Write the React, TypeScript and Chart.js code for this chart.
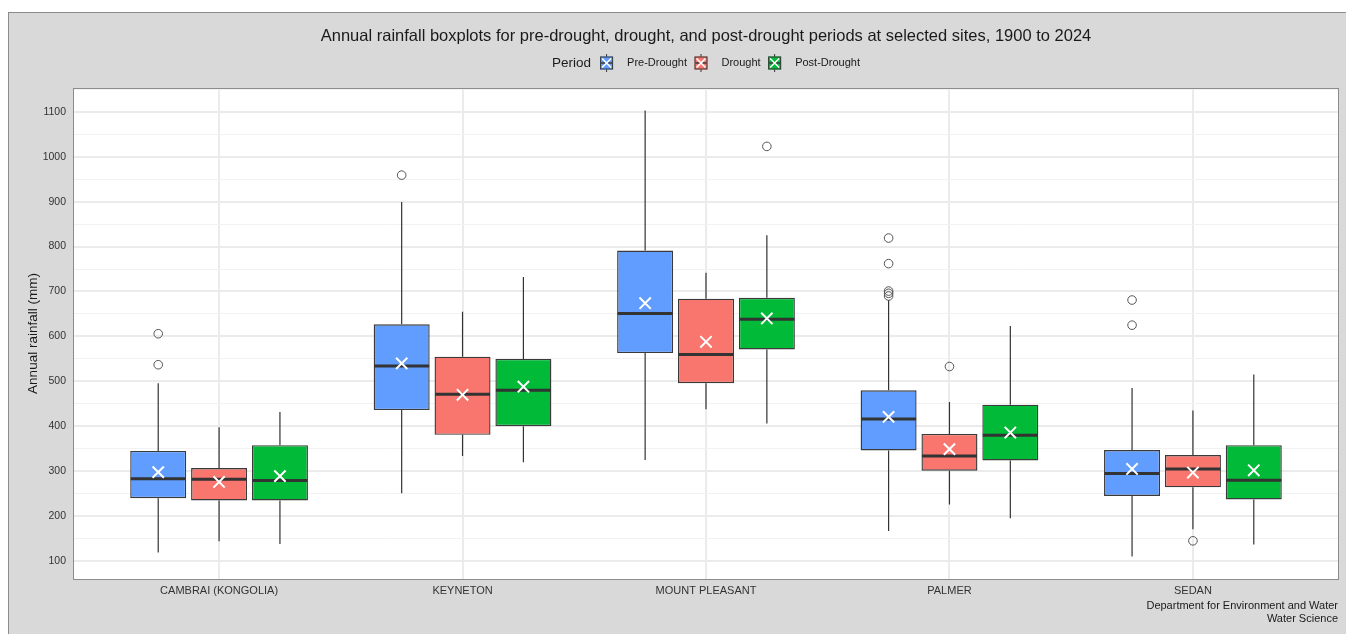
import React, { useEffect, useRef } from "react";
import { Chart, registerables } from "chart.js";

Chart.register(...registerables);

// ---------------- DATA ----------------
const sites = ["CAMBRAI (KONGOLIA)", "KEYNETON", "MOUNT PLEASANT", "PALMER", "SEDAN"];
const periods = ["Pre-Drought", "Drought", "Post-Drought"];
const periodColors = ["#619CFF", "#F8766D", "#00BA38"];
const yMajorTicks = [100, 200, 300, 400, 500, 600, 700, 800, 900, 1000, 1100];
const yMinorTicks = [150, 250, 350, 450, 550, 650, 750, 850, 950, 1050, 1150];

const preLower = [119, 251, 325, 167, 110];
const preQ1 = [240, 436, 563, 346, 245];
const preMedian = [283, 534, 651, 416, 295];
const preQ3 = [345, 627, 791, 480, 347];
const preUpper = [496, 899, 1103, 681, 485];
const preMean = [298, 540, 674, 421, 305];
const preOutliers = [[606, 537], [959], [], [819, 762, 701, 696, 690], [681, 625]];

const drLower = [144, 334, 438, 226, 171];
const drQ1 = [235, 381, 496, 301, 264];
const drMedian = [282, 471, 560, 334, 305];
const drQ3 = [307, 555, 684, 383, 336];
const drUpper = [398, 655, 742, 454, 435];
const drMean = [276, 470, 588, 349, 297];
const drOutliers = [[], [], [], [533], [145]];

const postLower = [138, 320, 406, 195, 137];
const postQ1 = [235, 400, 571, 324, 237];
const postMedian = [279, 480, 638, 380, 280];
const postQ3 = [358, 550, 686, 448, 358];
const postUpper = [432, 732, 825, 623, 515];
const postMean = [289, 488, 640, 386, 302];
const postOutliers = [[], [], [1023], [], []];

const titleText =
  "Annual rainfall boxplots for pre-drought, drought, and post-drought periods at selected sites, 1900 to 2024";
const yTitle = "Annual rainfall (mm)";
const legendTitle = "Period";
const captionLines = ["Department for Environment and Water", "Water Science"];

// ---------------- BUILD ----------------
const stats = [
  { lower: preLower, q1: preQ1, median: preMedian, q3: preQ3, upper: preUpper, mean: preMean, outliers: preOutliers },
  { lower: drLower, q1: drQ1, median: drMedian, q3: drQ3, upper: drUpper, mean: drMean, outliers: drOutliers },
  { lower: postLower, q1: postQ1, median: postMedian, q3: postQ3, upper: postUpper, mean: postMean, outliers: postOutliers },
];
const dodge = [-0.25, 0, 0.25];
const FONT = "'Liberation Sans', Arial, Helvetica, sans-serif";
const TEXT = "#1a1a1a";
const AXIS_TEXT = "#333333";
const LINE = "#333333";

const noScalePadding = (scale: any) => {
  scale._calculatePadding = () => {
    scale.paddingLeft = 0;
    scale.paddingRight = 0;
    scale.paddingTop = 0;
    scale.paddingBottom = 0;
  };
};

const boxPlugin = {
  id: "boxExtras",
  beforeDraw(chart: any) {
    const { ctx, chartArea } = chart;
    ctx.save();
    ctx.fillStyle = "#ffffff";
    ctx.fillRect(chartArea.left, chartArea.top, chartArea.right - chartArea.left, chartArea.bottom - chartArea.top);
    ctx.restore();
  },
  beforeDatasetsDraw(chart: any) {
    const { ctx } = chart;
    const y = chart.scales.y;
    ctx.save();
    ctx.strokeStyle = LINE;
    ctx.lineWidth = 1.2;
    chart.data.datasets.forEach((ds: any, di: number) => {
      if (!ds.boxStats) return;
      const meta = chart.getDatasetMeta(di);
      const s = ds.boxStats;
      meta.data.forEach((el: any, i: number) => {
        const x = el.x;
        ctx.beginPath();
        ctx.moveTo(x, y.getPixelForValue(s.q3[i]));
        ctx.lineTo(x, y.getPixelForValue(s.upper[i]));
        ctx.moveTo(x, y.getPixelForValue(s.q1[i]));
        ctx.lineTo(x, y.getPixelForValue(s.lower[i]));
        ctx.stroke();
      });
    });
    ctx.restore();
  },
  afterDatasetDraw(chart: any, args: any) {
    const ds = chart.data.datasets[args.index];
    if (!ds.boxStats) return;
    const { ctx } = chart;
    const y = chart.scales.y;
    const s = ds.boxStats;
    ctx.save();
    ctx.strokeStyle = LINE;
    ctx.lineWidth = 3;
    args.meta.data.forEach((el: any, i: number) => {
      const py = y.getPixelForValue(s.median[i]);
      ctx.beginPath();
      ctx.moveTo(el.x - el.width / 2 + 0.5, py);
      ctx.lineTo(el.x + el.width / 2 - 0.5, py);
      ctx.stroke();
    });
    ctx.restore();
  },
  afterDraw(chart: any) {
    const { ctx, chartArea } = chart;
    ctx.save();
    // panel border
    ctx.strokeStyle = "#8c8c8c";
    ctx.lineWidth = 1;
    ctx.strokeRect(chartArea.left + 0.5, chartArea.top + 0.5, chartArea.right - chartArea.left - 1, chartArea.bottom - chartArea.top);
    const cx = (chartArea.left + chartArea.right) / 2;
    // title
    ctx.fillStyle = TEXT;
    ctx.font = `16.5px ${FONT}`;
    ctx.textAlign = "center";
    ctx.textBaseline = "middle";
    ctx.fillText(titleText, cx, 36.5);
    // legend
    const ly = 63;
    ctx.font = `13.5px ${FONT}`;
    const w0 = ctx.measureText(legendTitle).width;
    ctx.font = `11px ${FONT}`;
    const ws = periods.map((p) => ctx.measureText(p).width);
    const iconW = 13;
    const total = w0 + 9 + 3 * (iconW + 14) + ws[0] + ws[1] + ws[2] + 2 * 7.5;
    let lx = cx - total / 2;
    ctx.textAlign = "left";
    ctx.font = `13.5px ${FONT}`;
    ctx.fillStyle = TEXT;
    ctx.fillText(legendTitle, lx, ly);
    lx += w0 + 9;
    periods.forEach((p, k) => {
      ctx.strokeStyle = LINE;
      ctx.lineWidth = 1;
      ctx.beginPath();
      ctx.moveTo(lx + iconW / 2, ly - 9);
      ctx.lineTo(lx + iconW / 2, ly + 9);
      ctx.stroke();
      ctx.fillStyle = periodColors[k];
      ctx.fillRect(lx, ly - 6.5, iconW, 13);
      ctx.strokeStyle = "#3a3a3a";
      ctx.strokeRect(lx + 0.5, ly - 6, iconW - 1, 12);
      ctx.lineWidth = 1.5;
      ctx.beginPath();
      ctx.moveTo(lx + 1, ly);
      ctx.lineTo(lx + iconW - 1, ly);
      ctx.stroke();
      ctx.strokeStyle = "#ffffff";
      ctx.lineWidth = 1.6;
      ctx.beginPath();
      ctx.moveTo(lx + 2, ly - 4.5);
      ctx.lineTo(lx + iconW - 2, ly + 4.5);
      ctx.moveTo(lx + iconW - 2, ly - 4.5);
      ctx.lineTo(lx + 2, ly + 4.5);
      ctx.stroke();
      lx += iconW + 14;
      ctx.fillStyle = TEXT;
      ctx.font = `11px ${FONT}`;
      ctx.fillText(p, lx, ly);
      lx += ws[k] + 7.5;
    });
    // caption
    ctx.textAlign = "right";
    ctx.font = `11px ${FONT}`;
    ctx.fillStyle = TEXT;
    ctx.fillText(captionLines[0], chartArea.right - 1, 606);
    ctx.fillText(captionLines[1], chartArea.right - 1, 619);
    ctx.restore();
  },
};

export default function App() {
  const ref = useRef<HTMLCanvasElement | null>(null);

  useEffect(() => {
    if (!ref.current) return;
    Chart.defaults.font.family = FONT;
    const datasets: any[] = [];
    stats.forEach((s, k) => {
      datasets.push({
        type: "bar",
        label: periods[k],
        order: 3,
        boxStats: s,
        data: sites.map((_, i) => ({ x: i, y: [s.q1[i], s.q3[i]] })),
        backgroundColor: periodColors[k],
        borderColor: "#3a3a3a",
        borderWidth: 1.4,
        borderSkipped: false,
        categoryPercentage: 0.75,
        barPercentage: 0.92,
      });
    });
    stats.forEach((s, k) => {
      datasets.push({
        type: "scatter",
        label: periods[k] + " outliers",
        order: 2,
        data: s.outliers.flatMap((arr, i) => arr.map((v) => ({ x: i + dodge[k], y: v }))),
        pointStyle: "circle",
        pointRadius: 4.3,
        pointBorderWidth: 1,
        pointBorderColor: "#555555",
        pointBackgroundColor: "rgba(0,0,0,0)",
      });
    });
    stats.forEach((s, k) => {
      datasets.push({
        type: "scatter",
        label: periods[k] + " mean",
        order: 1,
        data: s.mean.map((v, i) => ({ x: i + dodge[k], y: v })),
        pointStyle: "crossRot",
        pointRadius: 8,
        pointBorderWidth: 2,
        pointBorderColor: "#ffffff",
        pointBackgroundColor: "#ffffff",
      });
    });

    const chart = new Chart(ref.current, {
      type: "bar",
      data: { datasets },
      plugins: [boxPlugin],
      options: {
        responsive: false,
        animation: false,
        events: [],
        layout: { autoPadding: false, padding: { top: 88, right: 7, bottom: 0, left: 0 } },
        plugins: { legend: { display: false }, tooltip: { enabled: false }, title: { display: false } },
        scales: {
          x: {
            type: "linear",
            min: -0.6,
            max: 4.6,
            offset: false,
            beforeFit: noScalePadding,
            afterBuildTicks: (scale: any) => {
              scale.ticks = sites.map((_, i) => ({ value: i }));
            },
            afterFit: (scale: any) => {
              scale.height = 55;
            },
            ticks: {
              autoSkip: false,
              maxRotation: 0,
              padding: 5,
              color: AXIS_TEXT,
              font: { size: 11, family: FONT },
              callback: (v: any) => sites[Math.round(v)] ?? "",
            },
            grid: { color: "#ebebeb", lineWidth: 2, drawTicks: false, offset: false },
            border: { display: false },
          },
          y: {
            type: "linear",
            min: 60,
            max: 1153,
            beforeFit: noScalePadding,
            afterBuildTicks: (scale: any) => {
              scale.ticks = [...yMajorTicks, ...yMinorTicks].sort((a, b) => a - b).map((v) => ({ value: v }));
            },
            afterFit: (scale: any) => {
              scale.width = 73;
            },
            ticks: {
              autoSkip: false,
              padding: 7,
              color: AXIS_TEXT,
              font: { size: 10.5, family: FONT },
              callback: (v: any) => (yMajorTicks.includes(v) ? String(v) : ""),
            },
            grid: {
              drawTicks: false,
              color: (c: any) => (c.tick && yMajorTicks.includes(c.tick.value) ? "#ebebeb" : "#f2f2f2"),
              lineWidth: (c: any) => (c.tick && yMajorTicks.includes(c.tick.value) ? 2 : 1),
            },
            border: { display: false },
            title: {
              display: true,
              text: yTitle,
              color: TEXT,
              font: { size: 13.5, family: FONT },
              padding: { top: 25, bottom: 0 },
            },
          },
        },
      } as any,
    });
    return () => chart.destroy();
  }, []);

  return (
    <>
      <div
        style={{
          position: "fixed",
          left: 8,
          top: 12,
          width: 1360,
          height: 650,
          background: "#d9d9d9",
          border: "1px solid #8c8c8c",
          boxSizing: "border-box",
        }}
      />
      <canvas
        ref={ref}
        width={1346}
        height={634}
        style={{ position: "fixed", left: 0, top: 0, width: 1346, height: 634 }}
      />
    </>
  );
}
